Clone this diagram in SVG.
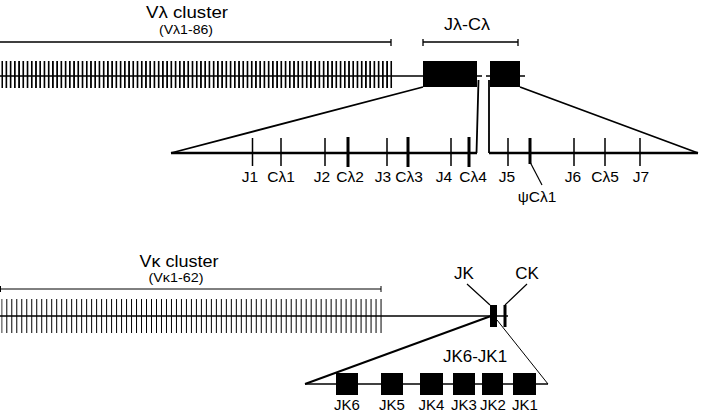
<svg xmlns="http://www.w3.org/2000/svg" width="702" height="414" viewBox="0 0 702 414">
<style>
text{font-family:"Liberation Sans",Arial,sans-serif;fill:#000}
.big{font-size:17px}
.sub{font-size:13px}
.lab{font-size:15.5px}
.klab{font-size:15px}
.ln{stroke:#000;fill:none}
.blk{fill:#000}
</style>
<defs>
<pattern id="tickL" patternUnits="userSpaceOnUse" x="1.3" y="61" width="4.23" height="27"><rect x="0" y="0" width="1.4" height="27" fill="#000" shape-rendering="crispEdges"/></pattern>
<pattern id="tickK" patternUnits="userSpaceOnUse" x="1.3" y="299" width="4.99" height="34"><rect x="0" y="0" width="1.4" height="34" fill="#000" shape-rendering="crispEdges"/></pattern>
</defs>
<rect width="702" height="414" fill="#fff"/>

<g id="lambda-labels">
<text class="big" x="187" y="18" text-anchor="middle" textLength="82" lengthAdjust="spacingAndGlyphs">Vλ cluster</text>
<text class="sub" x="186" y="34" text-anchor="middle" textLength="54" lengthAdjust="spacingAndGlyphs">(Vλ1-86)</text>
<text class="big" x="467" y="30" text-anchor="middle" textLength="46" lengthAdjust="spacingAndGlyphs">Jλ-Cλ</text>
</g>

<g id="lambda-brackets">
<path class="ln" stroke-width="1.3" d="M0 42H391M391 39V46M423 42H518M423 39V46M518 39V46"/>
</g>

<g id="lambda-cluster">
<path class="ln" stroke-width="1.5" d="M0 76H423M477 76H482M486 76H490M520 76H525"/>
<rect x="1.3" y="61" width="391" height="27" fill="url(#tickL)"/>
<rect class="blk" x="423" y="61" width="54" height="26"/>
<rect class="blk" x="490" y="61" width="30" height="26"/>
</g>

<g id="connectors">
<path class="ln" stroke-width="1.8" d="M423 87L171 153M520 87L698 153M478.5 80L476.5 153M489 80V153"/>
<path class="ln" stroke-width="2" d="M491 316L305 384"/>
<path class="ln" stroke-width="1" d="M497 320L548 384"/>
<path class="ln" stroke-width="1.2" d="M467 284L490 305M527 284L505 305"/>
<path class="ln" stroke-width="1.2" d="M530 162L542 185"/>
</g>

<g id="lambda-expanded">
<path class="ln" stroke-width="2.5" d="M171 153H477M489 153H698"/>
<path class="ln" stroke-width="1.5" d="M252.5 138V166M281 138V166M325 138V166M387 138V166M451 138V166M508 138V166M574 138V166M605 138V166M640 138V166"/>
<path class="ln" stroke-width="3" d="M348 137V167M408 137V167M469 137V167M530 138V164"/>
<text class="lab" x="250" y="182" text-anchor="middle">J1</text>
<text class="lab" x="281" y="182" text-anchor="middle">Cλ1</text>
<text class="lab" x="322" y="182" text-anchor="middle">J2</text>
<text class="lab" x="350" y="182" text-anchor="middle">Cλ2</text>
<text class="lab" x="383" y="182" text-anchor="middle">J3</text>
<text class="lab" x="409" y="182" text-anchor="middle">Cλ3</text>
<text class="lab" x="444" y="182" text-anchor="middle">J4</text>
<text class="lab" x="473" y="182" text-anchor="middle">Cλ4</text>
<text class="lab" x="507" y="182" text-anchor="middle">J5</text>
<text class="lab" x="573" y="182" text-anchor="middle">J6</text>
<text class="lab" x="605" y="182" text-anchor="middle">Cλ5</text>
<text class="lab" x="641" y="182" text-anchor="middle">J7</text>
<text class="lab" x="537" y="202" text-anchor="middle">ψCλ1</text>
</g>

<g id="kappa-labels">
<text class="big" x="179" y="267" text-anchor="middle" textLength="79" lengthAdjust="spacingAndGlyphs">Vκ cluster</text>
<text class="sub" x="176" y="282" text-anchor="middle" textLength="55" lengthAdjust="spacingAndGlyphs">(Vκ1-62)</text>
<text class="big" x="464" y="279" text-anchor="middle">JK</text>
<text class="big" x="527" y="279" text-anchor="middle">CK</text>
</g>

<g id="kappa-bracket">
<path class="ln" stroke-width="1" d="M0 289H381M0.5 286V292M381 286V292"/>
</g>

<g id="kappa-cluster">
<path class="ln" stroke-width="1.5" d="M0 316H508"/>
<rect x="1.3" y="299" width="381" height="34" fill="url(#tickK)"/>
<rect class="blk" x="490" y="305" width="7" height="22"/>
<rect class="blk" x="503.5" y="305" width="3" height="22"/>
</g>

<g id="kappa-expanded">
<path class="ln" stroke-width="1.5" d="M305 384H548"/>
<text class="big" x="475" y="362" text-anchor="middle">JK6-JK1</text>
<rect class="blk" x="336" y="373" width="22" height="22"/>
<rect class="blk" x="381" y="373" width="22" height="22"/>
<rect class="blk" x="420" y="373" width="23" height="22"/>
<rect class="blk" x="453" y="373" width="22" height="22"/>
<rect class="blk" x="482" y="373" width="21" height="22"/>
<rect class="blk" x="513" y="373" width="23" height="22"/>
<text class="klab" x="347" y="410" text-anchor="middle">JK6</text>
<text class="klab" x="392" y="410" text-anchor="middle">JK5</text>
<text class="klab" x="431.5" y="410" text-anchor="middle">JK4</text>
<text class="klab" x="464" y="410" text-anchor="middle">JK3</text>
<text class="klab" x="493" y="410" text-anchor="middle">JK2</text>
<text class="klab" x="525" y="410" text-anchor="middle">JK1</text>
</g>
</svg>
